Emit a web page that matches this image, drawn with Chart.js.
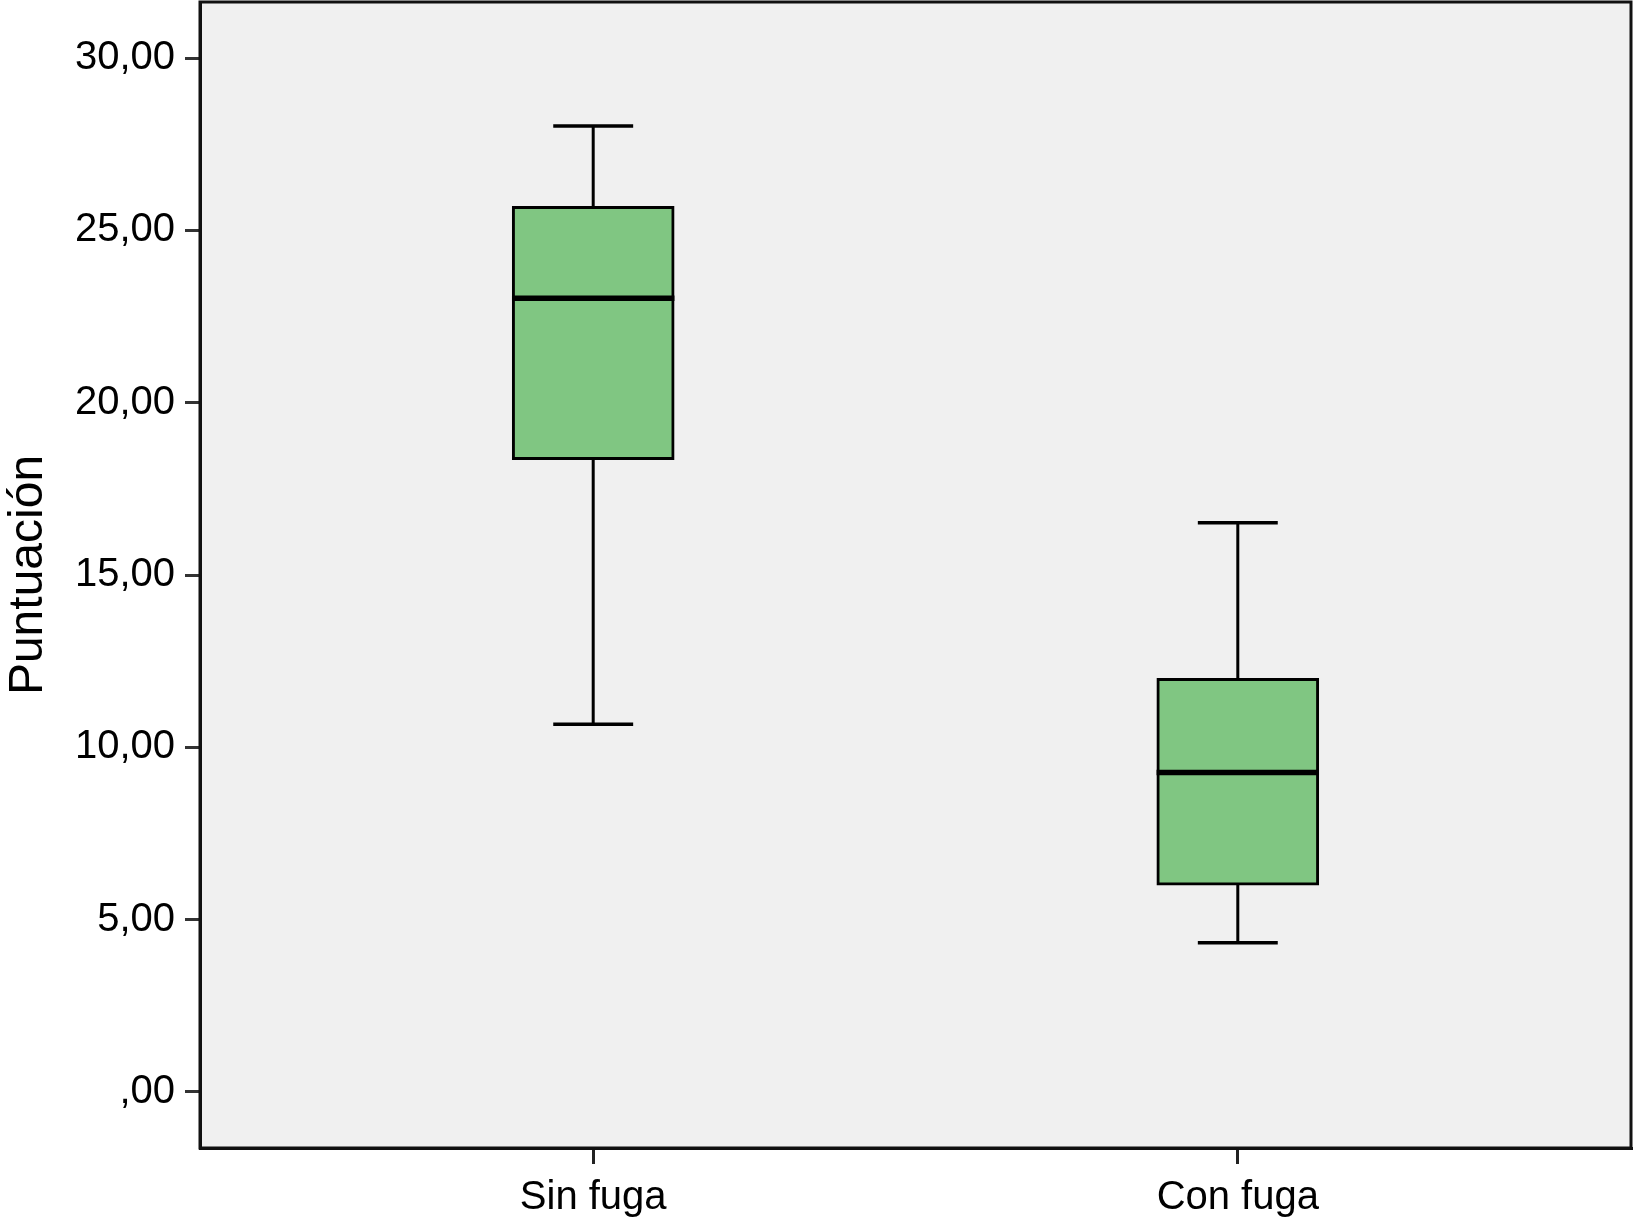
<!DOCTYPE html>
<html>
<head>
<meta charset="utf-8">
<script src="https://cdn.jsdelivr.net/npm/chart.js@4"></script>
<style>
  html, body { margin: 0; padding: 0; background: #fff; }
  #wrap { width: 1633px; height: 1217px; }
</style>
</head>
<body>
<div id="wrap"><canvas id="chart1"></canvas></div>
<script>
const categories = ['Sin fuga', 'Con fuga'];
const whiskerLow = [10.67, 4.33];
const q1 = [18.35, 6.0];
const median = [23.03, 9.27];
const q3 = [25.7, 12.0];
const whiskerHigh = [28.03, 16.52];
const yTicks = [0, 5, 10, 15, 20, 25, 30];

const boxHalf = 0.126;
const capHalf = 0.062;

// bars for the boxes (Q1..Q3)
const boxData = categories.map((c, i) => ({ x: i + 1, y: [q1[i], q3[i]] }));

function seg(points, width) {
  return {
    type: 'line',
    data: points,
    borderColor: '#000',
    borderWidth: width,
    pointRadius: 0,
    borderCapStyle: 'butt',
    order: 0
  };
}

const lines = [];
categories.forEach((c, i) => {
  const x = i + 1;
  lines.push(seg([{ x: x, y: q3[i] }, { x: x, y: whiskerHigh[i] }], 3));
  lines.push(seg([{ x: x, y: q1[i] }, { x: x, y: whiskerLow[i] }], 3));
  lines.push(seg([{ x: x - capHalf, y: whiskerHigh[i] }, { x: x + capHalf, y: whiskerHigh[i] }], 3.5));
  lines.push(seg([{ x: x - capHalf, y: whiskerLow[i] }, { x: x + capHalf, y: whiskerLow[i] }], 3.5));
  lines.push(seg([{ x: x - boxHalf, y: median[i] }, { x: x + boxHalf, y: median[i] }], 5.5));
});

const plotBg = {
  id: 'plotBg',
  beforeDraw(chart) {
    const a = chart.chartArea, g = chart.ctx;
    g.save();
    g.fillStyle = '#f0f0f0';
    g.fillRect(a.left, a.top, a.right - a.left, a.bottom - a.top);
    g.restore();
  },
  afterDraw(chart) {
    const a = chart.chartArea, g = chart.ctx;
    g.save();
    g.strokeStyle = '#111';
    g.lineWidth = 3;
    g.strokeRect(a.left, a.top, a.right - a.left, a.bottom - a.top);
    g.restore();
  }
};

const ctx = document.getElementById('chart1');
new Chart(ctx, {
  type: 'bar',
  data: {
    datasets: [{
      data: boxData,
      backgroundColor: 'rgb(128, 198, 130)',
      borderColor: '#000',
      borderWidth: 3,
      borderSkipped: false,
      barThickness: 162,
      order: 1
    }].concat(lines)
  },
  options: {
    responsive: true,
    maintainAspectRatio: false,
    animation: false,
    layout: { padding: { top: 2, right: 2 } },
    plugins: { legend: { display: false }, tooltip: { enabled: false } },
    scales: {
      x: {
        type: 'linear',
        min: 0.39,
        max: 2.61,
        offset: false,
        afterBuildTicks: s => { s.ticks = categories.map((c, i) => ({ value: i + 1 })); },
        afterFit: s => { s.height = 69; s.paddingLeft = 0; s.paddingRight = 0; },
        ticks: {
          callback: v => categories[v - 1],
          color: '#000',
          font: { family: 'Liberation Sans', size: 40 },
          padding: 10,
          maxRotation: 0
        },
        grid: { offset: false, drawOnChartArea: false, tickLength: 16, color: '#222', lineWidth: 3 },
        border: { color: '#111', width: 3 }
      },
      y: {
        min: -1.63,
        max: 31.63,
        afterBuildTicks: s => { s.ticks = yTicks.map(v => ({ value: v })); },
        afterFit: s => { s.width = 200; s.paddingTop = 0; s.paddingBottom = 0; },
        ticks: {
          callback: v => v === 0 ? ',00' : v.toFixed(2).replace('.', ','),
          color: '#000',
          font: { family: 'Liberation Sans', size: 40 },
          padding: 10
        },
        grid: { drawOnChartArea: false, tickLength: 15, color: '#333', lineWidth: 3 },
        border: { color: '#111', width: 3 },
        title: {
          display: true,
          text: 'Puntuación',
          color: '#000',
          font: { family: 'Liberation Sans', size: 48 },
          padding: { top: 0, bottom: 0 }
        }
      }
    }
  },
  plugins: [plotBg]
});
</script>
</body>
</html>
